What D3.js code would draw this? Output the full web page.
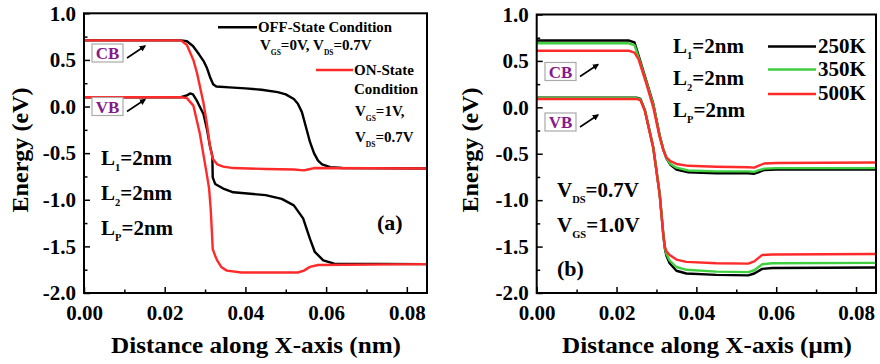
<!DOCTYPE html>
<html>
<head>
<meta charset="utf-8">
<script src="https://cdn.jsdelivr.net/npm/d3@7"></script>
<style>
  body { margin: 0; background: #fff; }
  text { font-family: "Liberation Serif", "Times New Roman", serif; font-weight: bold; }
</style>
</head>
<body>
<div id="root"></div>
<script>
// ---- panel (a): band edges for OFF / ON state, [x (nm), energy (eV)]
const offCB = [[0,0.71],[0.024,0.71],[0.0255,0.70],[0.027,0.65],[0.0285,0.56],[0.0296,0.49],[0.0305,0.41],[0.0312,0.32],[0.032,0.24],[0.0328,0.215],[0.036,0.205],[0.040,0.195],[0.044,0.18],[0.048,0.155],[0.050,0.13],[0.052,0.08],[0.053,0.03],[0.054,-0.06],[0.055,-0.22],[0.056,-0.38],[0.057,-0.50],[0.058,-0.58],[0.059,-0.62],[0.061,-0.65],[0.064,-0.66],[0.085,-0.665]];
const offVB = [[0,0.10],[0.024,0.10],[0.0255,0.12],[0.0263,0.14],[0.027,0.13],[0.028,0.06],[0.0296,-0.08],[0.0305,-0.25],[0.0312,-0.42],[0.0318,-0.53],[0.0319,-0.76],[0.0325,-0.83],[0.0345,-0.88],[0.037,-0.92],[0.045,-0.95],[0.049,-0.99],[0.052,-1.06],[0.0543,-1.20],[0.056,-1.42],[0.0572,-1.56],[0.0593,-1.65],[0.062,-1.685],[0.085,-1.69]];
const onCB = [[0,0.71],[0.024,0.71],[0.0255,0.66],[0.0271,0.50],[0.028,0.36],[0.0296,0.04],[0.0304,-0.17],[0.0312,-0.42],[0.0319,-0.56],[0.033,-0.62],[0.0345,-0.645],[0.037,-0.66],[0.045,-0.67],[0.052,-0.675],[0.0545,-0.685],[0.0555,-0.675],[0.057,-0.66],[0.085,-0.665]];
const onVB = [[0,0.10],[0.024,0.10],[0.0255,0.09],[0.0271,0.01],[0.0287,-0.29],[0.0304,-0.72],[0.031,-0.88],[0.0314,-1.1],[0.0317,-1.35],[0.0319,-1.53],[0.0325,-1.60],[0.033,-1.65],[0.034,-1.72],[0.0354,-1.76],[0.039,-1.78],[0.053,-1.78],[0.0545,-1.76],[0.056,-1.72],[0.058,-1.70],[0.085,-1.69]];

// ---- panel (b): temperature series, [x (um), energy (eV)]
const cb250 = [[0,0.72],[0.023,0.72],[0.0245,0.70],[0.0258,0.52],[0.0275,0.28],[0.0292,0.04],[0.0308,-0.30],[0.0317,-0.45],[0.0325,-0.55],[0.0335,-0.62],[0.035,-0.67],[0.038,-0.70],[0.045,-0.71],[0.053,-0.71],[0.0545,-0.715],[0.0555,-0.70],[0.057,-0.675],[0.06,-0.67],[0.085,-0.67]];
const cb350 = [[0,0.69],[0.023,0.69],[0.0245,0.67],[0.0258,0.50],[0.0275,0.27],[0.0292,0.03],[0.0308,-0.30],[0.0317,-0.45],[0.0325,-0.55],[0.0335,-0.61],[0.035,-0.65],[0.038,-0.68],[0.045,-0.69],[0.053,-0.69],[0.0545,-0.695],[0.0555,-0.68],[0.057,-0.66],[0.06,-0.655],[0.085,-0.655]];
const cb500 = [[0,0.61],[0.023,0.61],[0.0245,0.59],[0.0255,0.52],[0.0275,0.25],[0.0292,0.0],[0.0308,-0.32],[0.0317,-0.46],[0.0325,-0.54],[0.0335,-0.58],[0.035,-0.61],[0.038,-0.63],[0.045,-0.64],[0.053,-0.645],[0.0545,-0.65],[0.0555,-0.63],[0.057,-0.605],[0.06,-0.60],[0.085,-0.595]];
const vb250 = [[0,0.105],[0.025,0.105],[0.026,0.09],[0.0271,-0.03],[0.0292,-0.43],[0.0308,-0.93],[0.0317,-1.36],[0.0321,-1.52],[0.0325,-1.60],[0.0333,-1.68],[0.035,-1.76],[0.0375,-1.79],[0.045,-1.805],[0.053,-1.81],[0.0545,-1.79],[0.0565,-1.74],[0.059,-1.73],[0.085,-1.725]];
const vb350 = [[0,0.10],[0.025,0.10],[0.026,0.085],[0.0271,-0.035],[0.0292,-0.43],[0.0308,-0.93],[0.0317,-1.36],[0.0321,-1.51],[0.0325,-1.58],[0.0333,-1.65],[0.035,-1.72],[0.0375,-1.75],[0.045,-1.77],[0.053,-1.775],[0.0545,-1.755],[0.0565,-1.69],[0.059,-1.68],[0.085,-1.675]];
const vb500 = [[0,0.09],[0.025,0.09],[0.026,0.075],[0.0271,-0.04],[0.0292,-0.44],[0.0308,-0.94],[0.0317,-1.37],[0.0321,-1.50],[0.0325,-1.55],[0.0333,-1.59],[0.035,-1.64],[0.0375,-1.665],[0.045,-1.68],[0.053,-1.684],[0.0545,-1.66],[0.0565,-1.59],[0.059,-1.585],[0.085,-1.58]];

// ---- ticks
const xMajor = [0, 0.02, 0.04, 0.06, 0.08];
const xMinor = [0.01, 0.03, 0.05, 0.07];
const yMajor = [-2, -1.5, -1, -0.5, 0, 0.5, 1];
const yMinor = [-1.75, -1.25, -0.75, -0.25, 0.25, 0.75];

const RED = "#ff2a2a", GREEN = "#3fcf3f", BLACK = "#000";

const svg = d3.select("#root").append("svg")
  .attr("width", 880).attr("height", 364);

// text with subscripts: parts = [[string, isSub], ...]
function rich(g, x, y, size, parts, anchor) {
  const t = g.append("text").attr("x", x).attr("y", y)
    .attr("font-size", size).attr("text-anchor", anchor || "start");
  let shifted = 0;
  parts.forEach(([s, sub]) => {
    const sp = t.append("tspan").text(s);
    if (sub) {
      sp.attr("font-size", size * 0.5).attr("dy", size * 0.3 - shifted);
      shifted = size * 0.3;
    } else if (shifted) {
      sp.attr("dy", -shifted);
      shifted = 0;
    }
  });
  return t;
}

function bandLabel(g, x, y, label) {
  g.append("rect").attr("x", x).attr("y", y).attr("width", 31).attr("height", 18)
    .attr("fill", "#fff").attr("stroke", "#aaa").attr("stroke-width", 1.2);
  g.append("text").attr("x", x + 15.5).attr("y", y + 15).attr("text-anchor", "middle")
    .attr("font-size", 17).attr("fill", "#861a8a").text(label);
  g.append("line").attr("x1", x + 35).attr("y1", y + 14).attr("x2", x + 53).attr("y2", y + 2)
    .attr("stroke", "#000").attr("stroke-width", 1.6).attr("marker-end", "url(#arr)");
}

svg.append("defs").append("marker").attr("id", "arr")
  .attr("viewBox", "0 0 10 10").attr("refX", 8).attr("refY", 5)
  .attr("markerWidth", 4).attr("markerHeight", 4).attr("orient", "auto")
  .append("path").attr("d", "M0,0L10,5L0,10z").attr("fill", "#000");

function panel(left, right, top, bottom, series, xTitle, xTitleX, yTitleX) {
  const x = d3.scaleLinear().domain([0, 0.085]).range([left, right]);
  const y = d3.scaleLinear().domain([-2, 1]).range([bottom, top]);
  const g = svg.append("g");

  const gx = g.append("g").attr("transform", `translate(0,${bottom})`);
  gx.call(d3.axisBottom(x).tickValues(xMajor).tickFormat(d => d.toFixed(2)).tickSize(-6).tickPadding(12));
  gx.append("g").call(d3.axisBottom(x).tickValues(xMinor).tickFormat("").tickSize(-3.5));
  const gy = g.append("g").attr("transform", `translate(${left},0)`);
  gy.call(d3.axisLeft(y).tickValues(yMajor).tickFormat(d => d.toFixed(1)).tickSize(-6).tickPadding(8));
  gy.append("g").call(d3.axisLeft(y).tickValues(yMinor).tickFormat("").tickSize(-3.5));
  g.selectAll(".domain").remove();
  g.selectAll(".tick line").attr("stroke", "#000").attr("stroke-width", 1.5);
  g.selectAll(".tick text").attr("font-size", 21).attr("fill", "#000")
    .style("font-family", '"Liberation Serif", serif').style("font-weight", "bold");

  const line = d3.line().x(d => x(d[0])).y(d => y(d[1]));
  series.forEach(s => {
    g.append("path").datum(s.data).attr("d", line)
      .attr("fill", "none").attr("stroke", s.color).attr("stroke-width", 2.4)
      .attr("stroke-linejoin", "round");
  });

  g.append("rect").attr("x", left).attr("y", top)
    .attr("width", right - left).attr("height", bottom - top)
    .attr("fill", "none").attr("stroke", "#000").attr("stroke-width", 2);

  g.append("text").attr("x", xTitleX).attr("y", 353)
    .attr("text-anchor", "middle").attr("font-size", 23)
    .attr("textLength", 290).attr("lengthAdjust", "spacingAndGlyphs").text(xTitle);
  g.append("text").attr("transform", `translate(${yTitleX},150) rotate(-90)`)
    .attr("text-anchor", "middle").attr("font-size", 23)
    .attr("textLength", 125).attr("lengthAdjust", "spacingAndGlyphs").text("Energy (eV)");
  return { g, x, y };
}

// ---- panel (a)
const A = panel(84, 427, 13.3, 293, [
  { data: offCB, color: BLACK }, { data: offVB, color: BLACK },
  { data: onCB, color: RED }, { data: onVB, color: RED }
], "Distance along X-axis (nm)", 256, 28);

A.g.append("line").attr("x1", 218).attr("x2", 257).attr("y1", 27.3).attr("y2", 27.3)
  .attr("stroke", BLACK).attr("stroke-width", 2.4);
A.g.append("text").attr("x", 258).attr("y", 32).attr("font-size", 15)
  .attr("textLength", 134).attr("lengthAdjust", "spacingAndGlyphs").text("OFF-State Condition");
rich(A.g, 260, 50, 15, [["V"], ["GS", 1], ["=0V, V"], ["DS", 1], ["=0.7V"]]);
A.g.append("line").attr("x1", 316).attr("x2", 353).attr("y1", 70).attr("y2", 70)
  .attr("stroke", RED).attr("stroke-width", 2.4);
A.g.append("text").attr("x", 354).attr("y", 75).attr("font-size", 15).text("ON-State");
A.g.append("text").attr("x", 354).attr("y", 93.5).attr("font-size", 15).text("Condition");
rich(A.g, 355, 116, 15, [["V"], ["GS", 1], ["=1V,"]]);
rich(A.g, 355, 142, 15, [["V"], ["DS", 1], ["=0.7V"]]);

rich(A.g, 101, 165, 21, [["L"], ["1", 1], ["=2nm"]]);
rich(A.g, 101, 200, 21, [["L"], ["2", 1], ["=2nm"]]);
rich(A.g, 101, 235, 21, [["L"], ["P", 1], ["=2nm"]]);
A.g.append("text").attr("x", 377).attr("y", 230).attr("font-size", 22).text("(a)");
bandLabel(A.g, 92, 44, "CB");
bandLabel(A.g, 92, 97.5, "VB");

// ---- panel (b)
const B = panel(536.7, 876, 14.5, 293, [
  { data: cb250, color: BLACK }, { data: vb250, color: BLACK },
  { data: cb350, color: GREEN }, { data: vb350, color: GREEN },
  { data: cb500, color: RED }, { data: vb500, color: RED }
], "Distance along X-axis (\u03bcm)", 707, 478);

rich(B.g, 673, 53, 21, [["L"], ["1", 1], ["=2nm"]]);
rich(B.g, 673, 85, 21, [["L"], ["2", 1], ["=2nm"]]);
rich(B.g, 673, 117, 21, [["L"], ["P", 1], ["=2nm"]]);

const tempLabels = ["250K", "350K", "500K"];
const tempColors = [BLACK, GREEN, RED];
const tempY = [46.5, 69.5, 94];
tempLabels.forEach((t, i) => {
  B.g.append("line").attr("x1", 768).attr("x2", 816).attr("y1", tempY[i]).attr("y2", tempY[i])
    .attr("stroke", tempColors[i]).attr("stroke-width", 2.4);
  B.g.append("text").attr("x", 818).attr("y", tempY[i] + 6).attr("font-size", 21).text(t);
});

rich(B.g, 557, 197, 21, [["V"], ["DS", 1], ["=0.7V"]]);
rich(B.g, 557, 232, 21, [["V"], ["GS", 1], ["=1.0V"]]);
B.g.append("text").attr("x", 557).attr("y", 276).attr("font-size", 22).text("(b)");
bandLabel(B.g, 545, 62.5, "CB");
bandLabel(B.g, 545, 113, "VB");
</script>
</body>
</html>
